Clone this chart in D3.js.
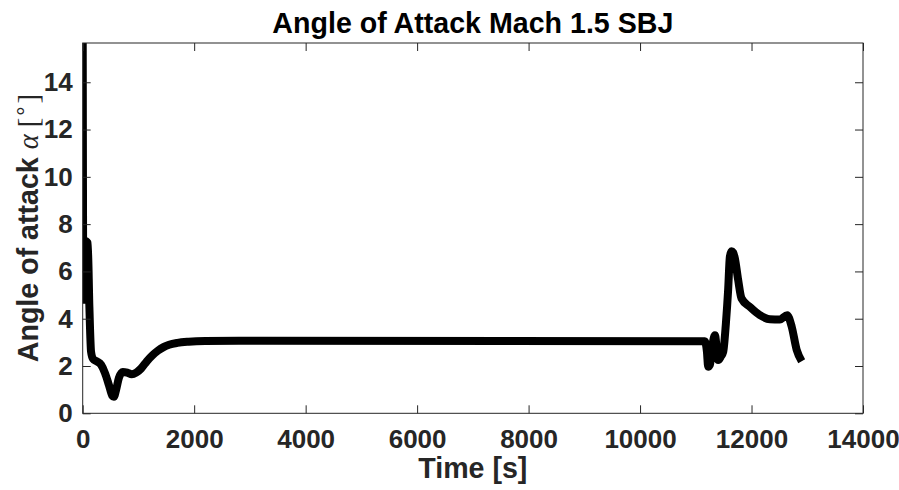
<!DOCTYPE html>
<html>
<head>
<meta charset="utf-8">
<script src="https://cdn.jsdelivr.net/npm/d3@7"></script>
<style>
  body { margin: 0; background: #fff; }
  text { font-family: "Liberation Sans", Arial, Helvetica, sans-serif; }
</style>
</head>
<body>
<div id="chart"></div>
<script>
// time [s] and angle of attack [deg]
let time = [
  0, 12, 35, 90, 120, 150, 185, 250, 330, 400, 470, 530, 560, 600, 650, 720,
  800, 880, 960, 1050, 1150, 1250, 1350, 1450, 1550, 1700, 1900, 2200, 2800,
  11162, 11200, 11222, 11253, 11300, 11343, 11402, 11450, 11492, 11540, 11580,
  11611, 11641, 11671, 11701, 11760, 11820, 11970, 12150, 12330, 12510, 12640,
  12720, 12810, 12900,
];
let alpha = [
  16.5, 4.8, 7.3, 7.2, 4.5, 2.6, 2.3, 2.2, 2.05, 1.7, 1.2, 0.75, 0.7, 1.0, 1.5,
  1.75, 1.72, 1.65, 1.72, 1.9, 2.2, 2.45, 2.65, 2.8, 2.9, 2.98, 3.03, 3.06, 3.07,
  3.05, 2.6, 1.97, 2.05, 2.9, 3.3, 2.25, 2.4, 2.6, 3.8, 5.2, 6.62, 6.85, 6.8,
  6.55, 5.64, 4.86, 4.5, 4.15, 3.98, 3.97, 4.15, 3.67, 2.68, 2.2,
];
let xTicks = [0, 2000, 4000, 6000, 8000, 10000, 12000, 14000];
let yTicks = [0, 2, 4, 6, 8, 10, 12, 14];

let width = 899,
  height = 490;
let margin = { left: 82.7, right: 36, top: 43, bottom: 76.7 };
let axColor = "#262626";
let tickLen = 8;

let svg = d3
  .select("#chart")
  .append("svg")
  .attr("width", width)
  .attr("height", height);

let x = d3
  .scaleLinear()
  .domain([0, 14000])
  .range([margin.left, width - margin.right]);
let y = d3
  .scaleLinear()
  .domain([0, 15.66])
  .range([height - margin.bottom, margin.top]);

let x0 = x.range()[0],
  x1 = x.range()[1],
  y0 = y.range()[0],
  y1 = y.range()[1];

// clip the line to the axes box like matlab does
svg
  .append("clipPath")
  .attr("id", "clip")
  .append("rect")
  .attr("x", x0)
  .attr("y", y1)
  .attr("width", x1 - x0)
  .attr("height", y0 - y1);

let data = time.map((t, i) => [t, alpha[i]]);

let line = d3
  .line()
  .x((d) => x(d[0]))
  .y((d) => y(d[1]))
  .curve(d3.curveMonotoneX);

svg
  .append("path")
  .datum(data)
  .attr("clip-path", "url(#clip)")
  .attr("d", line)
  .attr("fill", "none")
  .attr("stroke", "#000")
  .attr("stroke-width", 8)
  .attr("stroke-linejoin", "round");

// box
svg
  .append("rect")
  .attr("x", x0)
  .attr("y", y1)
  .attr("width", x1 - x0)
  .attr("height", y0 - y1)
  .attr("fill", "none")
  .attr("stroke", axColor)
  .attr("stroke-width", 1);

// ticks, inward on all four sides
let fmt = d3.format("d");
let xAxisB = d3.axisBottom(x).tickValues(xTicks).tickFormat(fmt).tickSizeInner(-tickLen).tickSizeOuter(0).tickPadding(16);
let xAxisT = d3.axisTop(x).tickValues(xTicks).tickSizeInner(-tickLen).tickSizeOuter(0).tickFormat("");
let yAxisL = d3.axisLeft(y).tickValues(yTicks).tickFormat(fmt).tickSizeInner(-tickLen).tickSizeOuter(0).tickPadding(10);
let yAxisR = d3.axisRight(y).tickValues(yTicks).tickSizeInner(-tickLen).tickSizeOuter(0).tickFormat("");

function styleAxis(g) {
  g.select(".domain").remove();
  g.selectAll(".tick line").attr("stroke", axColor).attr("stroke-width", 1);
  g.selectAll(".tick text")
    .attr("fill", axColor)
    .style("font-size", "26px")
    .style("font-weight", "bold");
}

svg.append("g").attr("transform", `translate(0,${y0})`).call(xAxisB).call(styleAxis);
svg.append("g").attr("transform", `translate(0,${y1})`).call(xAxisT).call(styleAxis);
svg.append("g").attr("transform", `translate(${x0},0)`).call(yAxisL).call(styleAxis);
svg.append("g").attr("transform", `translate(${x1},0)`).call(yAxisR).call(styleAxis);

// title
svg
  .append("text")
  .attr("x", (x0 + x1) / 2)
  .attr("y", 33)
  .attr("text-anchor", "middle")
  .style("font-size", "28.6px")
  .style("font-weight", "bold")
  .attr("fill", "#000")
  .text("Angle of Attack Mach 1.5 SBJ");

// x label
svg
  .append("text")
  .attr("x", (x0 + x1) / 2)
  .attr("y", 478)
  .attr("text-anchor", "middle")
  .style("font-size", "28.6px")
  .style("font-weight", "bold")
  .attr("fill", axColor)
  .text("Time [s]");

// y label with greek alpha and degree sign
let ylab = svg
  .append("text")
  .attr("transform", `translate(38,${(y0 + y1) / 2}) rotate(-90)`)
  .attr("text-anchor", "middle")
  .style("font-size", "28.6px")
  .attr("fill", axColor);
ylab.append("tspan").style("font-weight", "bold").text("Angle of attack ");
ylab
  .append("tspan")
  .style("font-family", "'Liberation Serif', serif")
  .style("font-style", "italic")
  .text("\u03b1");
ylab.append("tspan").style("font-family", "'Liberation Serif', serif").text(" [");
ylab
  .append("tspan")
  .style("font-family", "'Liberation Serif', serif")
  .style("font-size", "22px")
  .attr("dy", -11)
  .text("\u2218");
ylab
  .append("tspan")
  .style("font-family", "'Liberation Serif', serif")
  .attr("dy", 11)
  .text("]");
</script>
</body>
</html>
